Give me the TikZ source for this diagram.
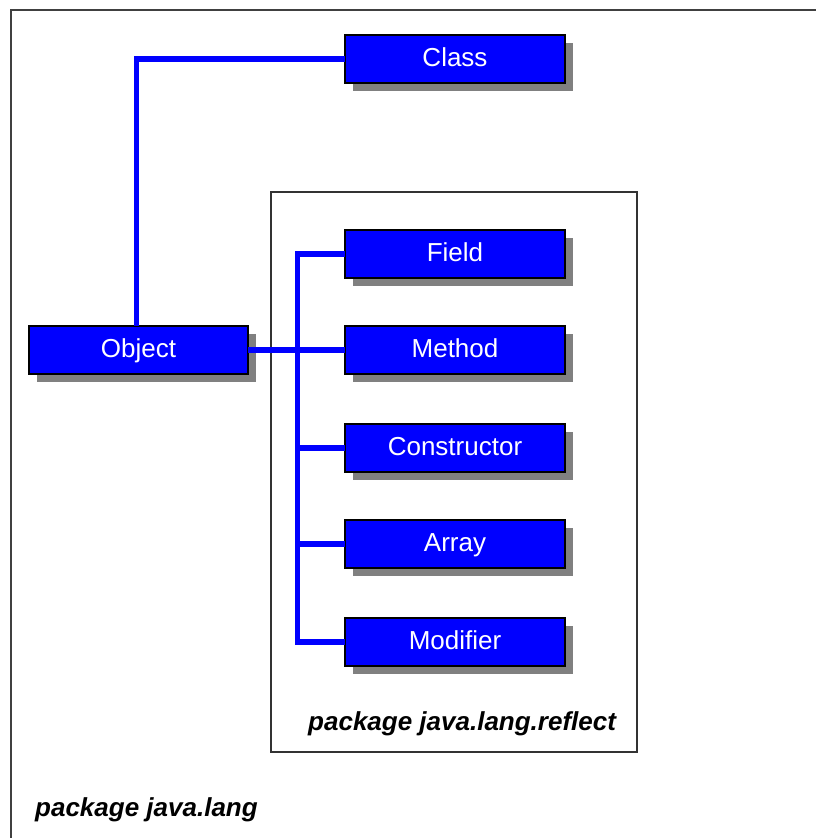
\documentclass[tikz,border=0pt]{standalone}
\usepackage{fontspec}
\setmainfont{Liberation Sans}
\usetikzlibrary{shadows}
\begin{document}
\begin{tikzpicture}[x=1pt,y=-1pt,
  cls/.style={draw=black, line width=1.5pt, fill=blue, text=white,
    minimum width=220pt, minimum height=48pt, inner sep=0pt, outer sep=0pt,
    text height=19pt, text depth=5pt,
    font=\fontsize{26}{30}\selectfont,
    drop shadow={shadow xshift=8pt, shadow yshift=-8pt, fill=black!50, opacity=1}},
  conn/.style={draw=blue, line width=5.5pt, line join=miter},
  pkgframe/.style={draw=black!80, line width=1.5pt, inner sep=0pt, outer sep=0pt, fill=none},
  pkglabel/.style={anchor=base west, inner sep=0pt, font=\fontsize{26}{30}\selectfont\bfseries\itshape}]
\useasboundingbox (0,0) rectangle (816,838);
\fill[white] (0,0) rectangle (816,838);
% outer package frame (cut by the image edges)
\coordinate (fbl) at (11,838);
\coordinate (ftl) at (11,10);
\coordinate (ftr) at (816,10);
\draw[draw=black!75, line width=2pt] (fbl) -- (ftl) -- (ftr);
% inner package frame
\node[pkgframe, minimum width=366pt, minimum height=560pt] (reflectpkg) at (454,472) {};
% classes
\node[cls] (class) at (455,59) {Class};
\node[cls, minimum width=219pt] (object) at (138.5,350) {Object};
\node[cls] (field) at (455,254) {Field};
\node[cls] (method) at (455,350) {Method};
\node[cls] (constructor) at (455,448) {Constructor};
\node[cls] (array) at (455,544) {Array};
\node[cls] (modifier) at (455,642) {Modifier};
% connectors
\coordinate (bus) at (297.5,0);
\coordinate (objtop) at ([xshift=-2pt]object.north);
\draw[conn] (class.west) -| (objtop);
\draw[conn] (object.east) -- (method.west);
\draw[conn] (field.west) -| (bus |- modifier.west) -- (modifier.west);
\draw[conn] (bus |- constructor.west) -- (constructor.west);
\draw[conn] (bus |- array.west) -- (array.west);
% labels
\node[pkglabel] (lblreflect) at (308,730) {package java.lang.reflect};
\node[pkglabel] (lbllang) at (35,816) {package java.lang};
\end{tikzpicture}
\end{document}
